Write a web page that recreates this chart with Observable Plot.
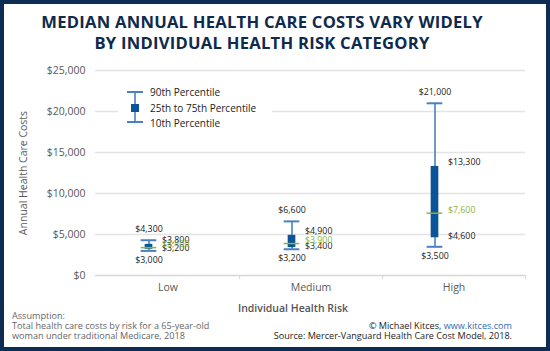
<!DOCTYPE html>
<html><head><meta charset="utf-8">
<script src="https://cdn.jsdelivr.net/npm/d3@7"></script>
<script src="https://cdn.jsdelivr.net/npm/@observablehq/plot@0.6"></script>
<style>
body{margin:0;background:#fff;}
#wrap{position:relative;width:550px;height:351px;overflow:hidden;background:#fff;font-family:"Open Sans",sans-serif;}
#frame{position:absolute;left:0;top:0;width:550px;height:351px;box-sizing:border-box;border:4px solid #0e2d52;pointer-events:none;}
#title{position:absolute;left:-13px;top:11px;width:550px;text-align:center;font-weight:700;font-size:16.6px;line-height:21px;color:#0e2a4c;letter-spacing:0.25px;}
#chart{position:absolute;left:0;top:60px;}
#legend{position:absolute;left:118px;top:84px;}
.foot{position:absolute;font-size:9.1px;line-height:10px;white-space:nowrap;}
#xlab{position:absolute;left:193px;width:200px;text-align:center;top:301px;font-size:10.5px;font-weight:600;color:#555;}
a{color:#2d6db5;}
</style></head>
<body>
<div id="wrap">
  <div id="title">MEDIAN ANNUAL HEALTH CARE COSTS VARY WIDELY<br>BY INDIVIDUAL HEALTH RISK CATEGORY</div>
  <div id="chart"></div>
  <div id="legend"></div>
  <div id="xlab">Individual Health Risk</div>
  <div class="foot" style="left:12px;top:311px;color:#666;">Assumption:</div>
  <div class="foot" style="left:12px;top:321px;color:#666;">Total health care costs by risk for a 65-year-old</div>
  <div class="foot" style="left:12px;top:331px;color:#666;">woman under traditional Medicare, 2018</div>
  <div class="foot" style="right:38px;top:321px;color:#222;text-align:right;">© Michael Kitces, <a>www.kitces.com</a></div>
  <div class="foot" style="right:38px;top:331px;color:#222;text-align:right;">Source: Mercer-Vanguard Health Care Cost Model, 2018.</div>
  <div id="frame"></div>
</div>
<script>
const categories = ["Low", "Medium", "High"];
const p10 = [3000, 3200, 3500];
const p25 = [3200, 3400, 4600];
const median = [3400, 3900, 7600];
const p75 = [3800, 4900, 13300];
const p90 = [4300, 6600, 21000];
const yTicks = [0, 5000, 10000, 15000, 20000, 25000];
const legendLabels = ["90th Percentile", "25th to 75th Percentile", "10th Percentile"];

const data = categories.map((c, i) => ({risk: c, p10: p10[i], p25: p25[i], median: median[i], p75: p75[i], p90: p90[i]}));
const fmt = d => "$" + d3.format(",")(d);

const W = 550, ML = 95, MR = 25;
const band = (W - ML - MR) / categories.length;
const off = -19;              // box offset from band centre
const capInset = band / 2 - 8;
const boxInset = band / 2 - 4;

const whisker = "#4a80bf", boxFill = "#0b5498", medCol = "#8ab33f";

const chart = Plot.plot({
  width: W, height: 260,
  marginLeft: ML, marginRight: MR, marginTop: 10, marginBottom: 45,
  style: {fontFamily: "Open Sans", fontSize: "10.5px", color: "#595959", background: "transparent", overflow: "visible"},
  x: {domain: categories, padding: 0, label: null},
  y: {domain: [0, 25000], label: null},
  marks: [
    Plot.gridY(yTicks.filter(d => d > 0), {stroke: "#e3e3e3", strokeOpacity: 1, strokeWidth: 1.5}),
    Plot.ruleY([0], {stroke: "#d6d6d6", strokeWidth: 1.5}),
    Plot.ruleX(categories, {x: d => d, y1: 0, y2: 0, insetBottom: -4, dx: band / 2, stroke: "#d6d6d6"}),
    Plot.axisY(yTicks, {tickSize: 0, tickPadding: 10, tickFormat: fmt, fill: "#595959", label: "Annual Health Care Costs", labelAnchor: "center", labelOffset: 76, labelArrow: "none"}),
    Plot.axisX({tickSize: 0, tickPadding: 8, fill: "#595959", label: null}),
    Plot.ruleX(data, {x: "risk", y1: "p10", y2: "p90", dx: off, stroke: whisker, strokeWidth: 1.6}),
    Plot.tickY(data, {x: "risk", y: "p90", dx: off, insetLeft: capInset, insetRight: capInset, stroke: whisker, strokeWidth: 2}),
    Plot.tickY(data, {x: "risk", y: "p10", dx: off, insetLeft: capInset, insetRight: capInset, stroke: whisker, strokeWidth: 2}),
    Plot.barY(data, {x: "risk", y1: "p25", y2: "p75", dx: off, insetLeft: boxInset, insetRight: boxInset, fill: boxFill}),
    Plot.tickY(data, {x: "risk", y: "median", dx: off, insetLeft: capInset, insetRight: capInset, stroke: medCol, strokeWidth: 1.5}),
    Plot.text(data, {x: "risk", y: "p90", text: d => fmt(d.p90), dx: off, dy: -11, fill: "#222", fontSize: 8.8}),
    Plot.text(data, {x: "risk", y: "p10", text: d => fmt(d.p10), dx: off, dy: 9, fill: "#222", fontSize: 8.8}),
    Plot.text(data, {x: "risk", y: "p75", text: d => fmt(d.p75), dx: off + 13, dy: -4.5, textAnchor: "start", fill: "#222", fontSize: 8.8}),
    Plot.text(data, {x: "risk", y: "p25", text: d => fmt(d.p25), dx: off + 13, dy: -1.5, textAnchor: "start", fill: "#222", fontSize: 8.8}),
    Plot.text(data, {x: "risk", y: "median", text: d => fmt(d.median), dx: off + 13, dy: -3.5, textAnchor: "start", fill: medCol, fontSize: 8.8})
  ]
});
document.getElementById("chart").appendChild(chart);

// legend
const lg = d3.select("#legend").append("svg").attr("width", 154).attr("height", 46)
  .style("background", "#fff").style("display", "block");
lg.append("line").attr("x1", 17).attr("x2", 17).attr("y1", 8).attr("y2", 38).attr("stroke", whisker).attr("stroke-width", 1.6);
lg.append("line").attr("x1", 9).attr("x2", 25).attr("y1", 8).attr("y2", 8).attr("stroke", whisker).attr("stroke-width", 2);
lg.append("line").attr("x1", 9).attr("x2", 25).attr("y1", 38).attr("y2", 38).attr("stroke", whisker).attr("stroke-width", 2);
lg.append("rect").attr("x", 13).attr("y", 20).attr("width", 8).attr("height", 8).attr("fill", boxFill);
lg.selectAll("text.l").data(legendLabels).join("text")
  .attr("x", 32).attr("y", (d, i) => [8, 24, 39][i]).attr("dy", "0.35em")
  .attr("font-family", "Open Sans").attr("font-size", 10).attr("fill", "#222").text(d => d);
</script>
</body></html>
